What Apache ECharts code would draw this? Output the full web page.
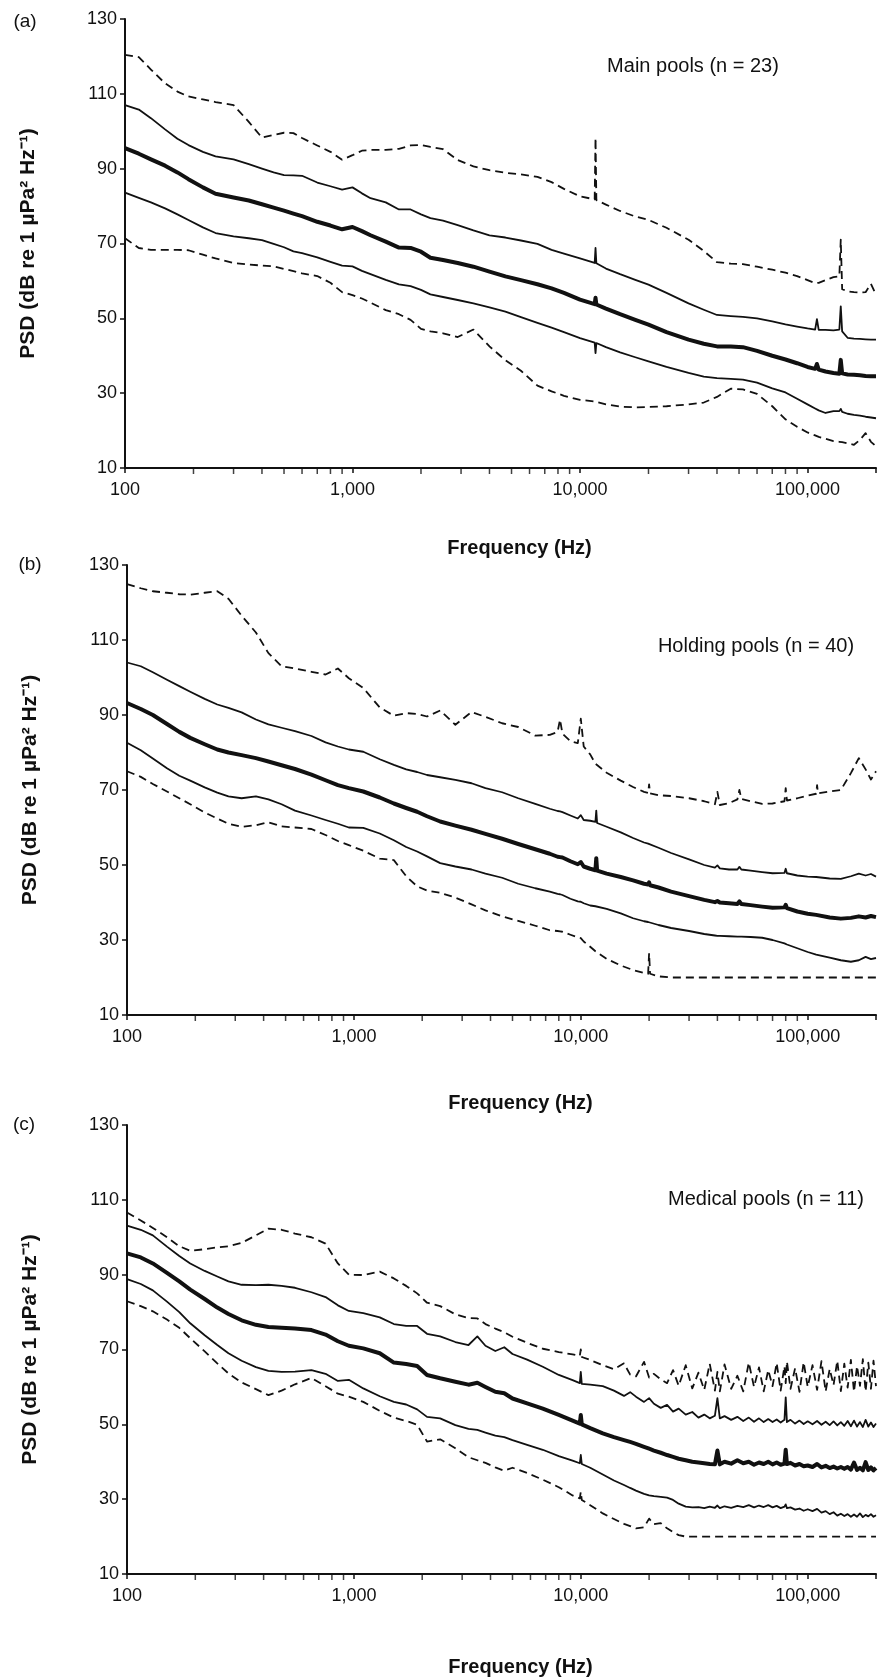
<!DOCTYPE html>
<html>
<head>
<meta charset="utf-8">
<title>PSD of pool noise</title>
<script src="https://cdn.jsdelivr.net/npm/echarts@6/dist/echarts.min.js"></script>
<style>
  html, body { margin: 0; padding: 0; background: #fff; }
  #chart { width: 879px; height: 1679px; }
</style>
</head>
<body>
<div id="chart"></div>
<script>
// ---- data ----

// y ticks and x tick positions
const yTicks = [10, 30, 50, 70, 90, 110, 130];
const decadeLabels = [100, 1000, 10000, 100000];
const minorTicks = [200, 300, 400, 500, 600, 700, 800, 900,
  2000, 3000, 4000, 5000, 6000, 7000, 8000, 9000,
  20000, 30000, 40000, 50000, 60000, 70000, 80000, 90000];

// (a) main pools
const freqA = [100, 115, 130, 150, 170, 190, 220, 250, 300, 350,
  400, 450, 500, 550, 600, 700, 800, 900, 1000, 1100,
  1200, 1400, 1600, 1800, 2000, 2200, 2500, 2900, 3400, 4000,
  4700, 5500, 6500, 7500, 8500, 10000, 11600, 11700, 11800, 13000,
  15000, 17500, 20000, 24000, 30000, 35000, 40000, 46000, 52000, 60000,
  70000, 80000, 90000, 100000, 108000, 110000, 112000, 120000, 130000, 138000,
  140000, 142000, 150000, 160000, 170000, 180000, 190000, 200000];
const meanA = [95.5, 94.0, 92.5, 90.8, 89.0, 87.2, 85.0, 83.3, 82.3, 81.5,
  80.5, 79.6, 78.8, 78.0, 77.3, 75.8, 74.8, 73.8, 74.4, 73.3,
  72.2, 70.5, 68.9, 68.8, 67.8, 66.2, 65.6, 64.8, 63.8, 62.5,
  61.2, 60.2, 59.1, 58.0, 56.8, 55.0, 53.8, 55.5, 53.7, 52.6,
  51.1, 49.6, 48.3, 46.3, 44.3, 43.2, 42.5, 42.5, 42.3, 41.3,
  40.0, 39.0, 38.0, 37.0, 36.5, 37.8, 36.3, 35.8, 35.4, 35.2,
  38.9, 35.3, 35.0, 34.9, 34.8, 34.6, 34.5, 34.5];
const sdUpA = [107.0, 105.8, 103.5, 100.5, 98.0, 96.3, 94.5, 93.3, 92.5, 91.2,
  90.0, 89.0, 88.3, 88.2, 88.1, 86.3, 85.3, 84.4, 85.0, 83.4,
  82.1, 81.0, 79.1, 79.1, 77.8, 76.8, 76.1, 74.9, 73.5, 72.2,
  71.6, 70.8, 69.9, 68.3, 67.3, 66.0, 64.8, 68.8, 64.7, 63.3,
  61.8, 60.3, 59.0, 56.8, 54.0, 52.3, 50.9, 50.6, 50.4, 50.0,
  49.2, 48.4, 47.8, 47.3, 47.0, 49.8, 46.9, 46.9, 46.8, 47.0,
  53.2, 46.5, 44.8, 44.6, 44.5, 44.4, 44.3, 44.3];
const sdLoA = [83.6, 82.2, 81.0, 79.4, 77.8, 76.3, 74.3, 72.8, 71.9, 71.4,
  70.9, 69.9, 69.0, 67.9, 67.4, 66.3, 65.1, 64.1, 63.9, 62.7,
  61.8, 60.3, 59.1, 58.6, 57.6, 56.4, 55.7, 54.9, 54.0, 52.9,
  51.8, 50.3, 48.8, 47.5, 46.3, 44.7, 43.5, 40.7, 43.4, 42.3,
  40.9, 39.6, 38.5, 37.0, 35.4, 34.4, 34.0, 33.8, 33.6, 32.8,
  31.3, 30.2, 28.5, 27.0, 25.9, 25.6, 25.4, 24.7, 25.2, 25.2,
  25.8, 25.0, 24.5, 24.2, 24.0, 23.7, 23.5, 23.3];
const maxA = [120.4, 119.8, 116.5, 112.8, 110.6, 109.3, 108.5, 107.8, 107.0, 102.5,
  98.3, 99.0, 99.6, 99.5, 98.2, 96.2, 94.5, 92.4, 93.6, 94.8,
  95.0, 95.0, 95.3, 96.2, 96.3, 95.8, 95.2, 92.3, 90.6, 89.6,
  88.9, 88.5, 87.8, 86.4, 84.6, 82.6, 81.8, 98.2, 81.6, 80.4,
  78.7, 77.2, 76.3, 74.2, 71.0, 68.0, 65.0, 64.6, 64.5, 63.8,
  63.0, 62.2, 61.3, 60.2, 59.4, 59.3, 59.5, 60.2, 61.0, 61.2,
  71.0, 57.8, 57.2, 57.0, 56.9, 57.0, 59.2, 56.3];
const minA = [71.4, 68.8, 68.3, 68.3, 68.3, 68.2, 67.0, 66.0, 64.8, 64.4,
  64.1, 63.9, 63.2, 62.6, 62.0, 61.3, 59.5, 57.0, 56.2, 55.3,
  54.2, 52.2, 51.1, 49.6, 47.2, 46.5, 46.0, 45.0, 47.0, 42.5,
  38.8, 36.0, 32.0, 30.5, 29.3, 28.2, 27.8, 27.8, 27.7, 27.0,
  26.4, 26.2, 26.3, 26.5, 27.0, 27.5, 29.0, 31.2, 31.0, 29.8,
  26.5, 23.0, 21.0, 19.5, 18.7, 18.5, 18.3, 17.8, 17.2, 17.0,
  17.0, 16.9, 16.6, 16.2, 17.5, 19.3, 17.0, 15.8];

// (b) holding pools
const freqB = [100, 115, 130, 150, 170, 190, 220, 250, 280, 320,
  370, 420, 480, 550, 650, 750, 850, 950, 1100, 1300,
  1500, 1700, 1900, 2100, 2400, 2800, 3300, 3800, 4500, 5300,
  6300, 7300, 7900, 8100, 8300, 9000, 9700, 10000, 10300, 11000,
  11600, 11700, 11800, 13000, 15000, 17000, 19000, 19800, 20000, 20200,
  22000, 25000, 30000, 35000, 39000, 40000, 41000, 45000, 49000, 50000,
  51000, 56000, 63000, 70000, 79000, 80000, 81000, 90000, 100000, 109000,
  110000, 111000, 125000, 140000, 155000, 168000, 180000, 190000, 200000];
const meanB = [93.2, 91.6, 90.0, 87.6, 85.5, 83.9, 82.2, 80.8, 80.0, 79.3,
  78.5, 77.6, 76.6, 75.6, 74.1, 72.6, 71.3, 70.5, 69.6, 68.0,
  66.4, 65.2, 64.2, 63.0, 61.6, 60.5, 59.4, 58.3, 57.0, 55.6,
  54.2, 53.0, 52.2, 52.1, 52.0, 51.0, 50.2, 50.8, 49.6, 49.0,
  48.6, 51.8, 48.5, 47.7, 46.8, 45.9, 45.0, 44.8, 45.4, 44.6,
  44.0, 42.9, 41.7, 40.7, 40.1, 40.4, 40.0, 39.8, 39.6, 40.3,
  39.6, 39.3, 38.9, 38.6, 38.7, 39.4, 38.5, 37.6, 37.0, 36.7,
  37.2, 36.6, 36.0, 35.7, 35.9, 36.3, 36.0, 36.4, 36.1];
const sdUpB = [104.0, 103.0, 101.4, 99.4, 97.7, 96.2, 94.3, 92.8, 91.9, 90.7,
  88.8, 87.5, 86.6, 85.7, 84.4, 82.7, 81.6, 80.8, 80.2, 78.2,
  76.7, 75.5, 74.8, 74.0, 73.4, 72.7, 71.8, 70.5, 69.4, 67.8,
  66.3, 65.0, 64.4, 64.3, 64.1, 63.2, 62.4, 63.3, 62.0, 61.8,
  61.5, 64.5, 61.2, 60.2, 58.7, 57.2, 56.0, 55.7, 56.0, 55.5,
  54.6, 53.2, 51.5, 50.0, 49.3, 49.9, 49.1, 48.8, 48.8, 49.5,
  48.8, 48.5, 48.1, 47.8, 47.9, 49.0, 47.8, 47.2, 46.9, 46.8,
  47.3, 46.7, 46.4, 46.3, 47.0, 47.7, 47.2, 47.6, 46.9];
const sdLoB = [82.6, 80.6, 78.4, 75.8, 73.8, 72.5, 70.7, 69.3, 68.3, 67.8,
  68.3, 67.5, 66.2, 64.5, 63.2, 62.0, 61.0, 60.0, 59.9, 58.4,
  56.6, 54.8, 53.6, 52.3, 50.5, 49.6, 48.8, 47.7, 46.6, 45.0,
  43.8, 42.9, 42.3, 42.2, 42.0, 41.0, 40.3, 40.2, 39.8, 39.2,
  39.0, 39.5, 38.9, 38.3, 37.1, 35.8, 35.0, 34.8, 35.2, 34.6,
  34.0, 33.2, 32.4, 31.6, 31.2, 31.1, 31.1, 31.0, 30.9, 30.9,
  30.9, 30.8, 30.6, 30.0, 29.1, 29.0, 28.8, 27.8, 26.8, 26.1,
  26.0, 26.0, 25.3, 24.6, 24.2, 24.6, 25.5, 24.9, 25.2];
const maxB = [124.9, 123.8, 123.0, 122.6, 122.2, 122.1, 122.6, 123.0, 121.0, 116.5,
  112.0, 106.5, 103.0, 102.4, 101.5, 100.8, 102.4, 99.8, 97.2, 92.0,
  89.8, 90.5, 90.3, 89.6, 91.2, 87.4, 90.8, 89.5, 87.8, 86.8,
  84.5, 84.7, 85.5, 88.8, 85.0, 83.0, 82.5, 89.0, 81.6, 79.5,
  77.0, 76.8, 76.6, 74.6, 72.5, 70.8, 69.5, 69.2, 71.5, 69.1,
  68.6, 68.4, 67.8, 67.0, 66.2, 69.5, 66.0, 66.5, 67.5, 70.0,
  67.6, 67.0, 66.3, 66.4, 67.0, 70.5, 67.2, 67.8, 68.5, 69.0,
  71.3, 69.1, 69.6, 70.0, 74.5, 78.5, 75.5, 72.8, 75.0];
const minB = [75.0, 73.5, 71.6, 69.6, 67.8, 66.2, 64.0, 62.4, 61.0, 60.2,
  60.6, 61.4, 60.3, 60.0, 59.6, 58.0, 56.4, 55.3, 53.8, 51.7,
  51.3, 47.0, 44.3, 43.2, 42.6, 41.3, 39.5, 37.9, 36.3, 35.1,
  33.8, 32.6, 32.4, 32.3, 32.2, 31.4, 30.7, 30.5, 29.6, 28.2,
  27.0, 26.9, 26.8, 25.0, 23.2, 22.0, 21.2, 21.0, 26.5, 21.0,
  20.3, 20.0, 20.0, 20.0, 20.0, 20.0, 20.0, 20.0, 20.0, 20.0,
  20.0, 20.0, 20.0, 20.0, 20.0, 20.0, 20.0, 20.0, 20.0, 20.0,
  20.0, 20.0, 20.0, 20.0, 20.0, 20.0, 20.0, 20.0, 20.0];

// (c) medical pools
const freqC = [100, 115, 130, 150, 170, 190, 220, 250, 280, 320,
  370, 420, 480, 550, 650, 750, 850, 950, 1100, 1300,
  1500, 1700, 1900, 2100, 2400, 2800, 3200, 3500, 3800, 4200,
  4600, 5000, 5800, 6800, 8000, 9200, 9900, 10000, 10100, 11000,
  12500, 14000, 15500, 16500, 17500, 19000, 20000, 21000, 22500, 24000,
  25500, 27000, 29000, 31000, 33000, 35000, 37000, 39000, 40000, 41000,
  43000, 46000, 49000, 52000, 55000, 58000, 61000, 64000, 67000, 70000,
  73000, 76000, 79000, 80000, 81000, 84000, 88000, 92000, 96000, 100000,
  105000, 110000, 115000, 120000, 125000, 130000, 135000, 140000, 145000, 150000,
  155000, 160000, 165000, 170000, 175000, 180000, 185000, 190000, 195000, 200000];
const meanC = [95.7, 94.6, 93.0, 90.5, 88.2, 86.0, 83.5, 81.2, 79.5, 77.8,
  76.6, 76.0, 75.8, 75.6, 75.2, 74.0, 72.2, 71.0, 70.3, 69.0,
  66.5, 66.1, 65.6, 63.2, 62.3, 61.4, 60.6, 61.1, 60.0, 58.7,
  58.3, 56.9, 55.6, 54.2, 52.5, 51.0, 50.2, 52.5, 50.0, 49.0,
  47.6, 46.6, 45.8, 45.3, 44.8, 44.0, 43.5, 43.0, 42.4, 41.8,
  41.3, 40.8, 40.4, 40.0, 39.8, 39.6, 39.4, 39.3, 43.0, 39.3,
  40.0, 39.5, 40.4, 39.6, 40.0, 39.2, 39.8, 39.4, 40.0, 39.3,
  39.8, 39.2, 39.5, 43.2, 39.4, 39.7, 39.0, 39.4, 38.8, 39.0,
  38.6, 39.4, 38.5, 38.9, 38.3, 38.7, 38.2, 38.6, 38.1, 38.6,
  37.9, 39.8, 37.8, 38.4, 37.7, 39.9, 37.8, 38.5, 37.7, 38.3];
const sdUpC = [103.1, 102.0, 100.5, 97.5, 95.0, 93.0, 91.0, 89.5, 88.2, 87.3,
  87.2, 87.3, 87.0, 86.5, 85.3, 84.0, 81.8, 80.3, 79.7, 78.6,
  76.8, 76.3, 76.3, 74.2, 73.5, 72.0, 71.2, 73.5, 71.0, 69.6,
  70.6, 68.8, 67.3, 65.4, 63.2, 61.8, 61.0, 64.0, 60.8, 60.6,
  60.2, 59.0, 57.6, 58.6, 57.4, 56.0, 57.0, 55.5, 54.4, 55.2,
  53.4, 54.2, 52.6, 53.3, 51.8, 52.6, 51.6, 52.3, 57.0, 51.6,
  52.2, 51.2, 52.0, 50.9, 51.8, 50.7, 51.6, 50.6, 51.4, 50.6,
  51.3, 50.5, 51.2, 57.2, 50.6, 51.2, 50.2, 51.0, 50.1, 50.8,
  50.0, 50.9, 49.9, 50.7, 49.8, 50.8, 49.7, 50.6, 49.6, 50.9,
  49.5, 51.0, 49.4, 50.6, 49.3, 51.2, 49.4, 50.5, 49.3, 50.2];
const sdLoC = [88.8, 87.5, 85.8, 82.8, 80.0, 77.0, 73.8, 71.2, 69.0, 67.0,
  65.3, 64.3, 64.0, 64.1, 64.5, 63.5, 61.6, 61.9, 59.6, 57.5,
  56.0, 55.3, 54.0, 52.0, 51.6, 49.8, 48.8, 48.5, 47.8, 47.0,
  46.6, 45.8, 44.5, 43.2, 41.5, 40.3, 39.6, 41.8, 39.4, 38.4,
  36.6, 35.0, 33.8, 33.0, 32.3, 31.4, 31.0, 30.8, 30.6, 30.4,
  29.8, 28.8, 28.0, 27.8, 27.9, 27.6, 28.0, 27.7, 28.3, 27.6,
  28.1, 27.7, 28.2, 27.9, 28.4, 27.8, 28.3, 27.9, 28.4, 27.8,
  28.2, 27.6, 28.0, 28.6, 27.6, 27.8, 27.2, 27.5, 26.9, 27.3,
  26.8, 27.4, 26.4, 26.8, 26.0, 26.5, 25.6, 26.1, 25.5, 26.0,
  25.3, 25.9, 25.3, 26.2, 25.2, 25.8, 25.4, 26.0, 25.3, 25.7];
const maxC = [106.6, 104.5, 102.5, 100.0, 97.6, 96.4, 96.8, 97.3, 97.6, 98.5,
  100.5, 102.3, 102.0, 101.0, 100.0, 98.3, 93.0, 90.0, 89.9, 90.8,
  89.0, 87.0, 85.0, 82.5, 81.6, 79.4, 78.4, 78.3, 76.8, 75.6,
  74.6, 73.4, 71.8, 70.2, 69.3, 68.7, 68.3, 70.0, 68.0, 67.2,
  65.8, 64.7, 66.3, 63.3, 62.8, 66.7, 62.5, 63.5, 62.0, 61.0,
  64.5, 60.3, 65.8, 59.6, 63.8, 59.2, 66.2, 59.0, 64.0, 58.8,
  66.0, 59.5, 63.0, 58.8, 66.5, 60.0, 65.2, 58.8, 64.5, 60.2,
  66.4, 59.0, 65.5, 61.0, 66.8, 59.5, 65.0, 58.7, 66.6, 60.0,
  65.8, 59.2, 66.9, 58.8, 64.8, 60.5, 67.0, 58.9, 66.2, 59.8,
  67.2, 58.7, 65.6, 60.3, 67.4, 58.8, 66.5, 59.5, 67.0, 60.2];
const minC = [82.9, 81.6, 80.2, 78.0, 75.8, 73.0, 69.5, 66.3, 63.6, 61.2,
  59.4, 57.8, 59.0, 60.7, 62.4, 60.2, 58.2, 57.4, 56.0, 53.6,
  51.8, 50.9, 49.9, 45.4, 46.0, 43.6, 41.2, 40.4, 39.7, 38.5,
  37.6, 38.4, 37.0, 35.2, 33.2, 31.0, 30.2, 32.0, 29.8, 28.4,
  26.2, 24.7, 23.4, 22.8, 22.2, 22.5, 24.8, 23.3, 23.6, 22.2,
  21.2, 20.4, 20.0, 20.0, 20.0, 20.0, 20.0, 20.0, 20.0, 20.0,
  20.0, 20.0, 20.0, 20.0, 20.0, 20.0, 20.0, 20.0, 20.0, 20.0,
  20.0, 20.0, 20.0, 20.0, 20.0, 20.0, 20.0, 20.0, 20.0, 20.0,
  20.0, 20.0, 20.0, 20.0, 20.0, 20.0, 20.0, 20.0, 20.0, 20.0,
  20.0, 20.0, 20.0, 20.0, 20.0, 20.0, 20.0, 20.0, 20.0, 20.0];

// ---- layout ----
const INK = '#111';
const FONT = '"Liberation Sans", Arial, sans-serif';

const panels = [
  { tag: '(a)', note: 'Main pools (n = 23)', freqs: freqA, mean: meanA, up: sdUpA, lo: sdLoA, max: maxA, min: minA,
    left: 125, top: 19, height: 449, tagX: 25, tagY: 22, noteX: 693, noteY: 66, xGap: 70 },
  { tag: '(b)', note: 'Holding pools (n = 40)', freqs: freqB, mean: meanB, up: sdUpB, lo: sdLoB, max: maxB, min: minB,
    left: 127, top: 565, height: 450, tagX: 30, tagY: 565, noteX: 756, noteY: 646, xGap: 78 },
  { tag: '(c)', note: 'Medical pools (n = 11)', freqs: freqC, mean: meanC, up: sdUpC, lo: sdLoC, max: maxC, min: minC,
    left: 127, top: 1125, height: 449, tagX: 24, tagY: 1125, noteX: 766, noteY: 1199, xGap: 83 }
];

const grids = [], xAxes = [], yAxes = [], series = [], texts = [];

function line(idx, freqs, vals, width, dashed) {
  return {
    type: 'line', xAxisIndex: idx, yAxisIndex: idx,
    data: freqs.map((f, i) => [f, vals[i]]),
    symbol: 'none', silent: true, animation: false,
    lineStyle: { color: INK, width: width, type: dashed ? [8, 5] : 'solid', cap: 'butt', join: 'round' }
  };
}

panels.forEach((p, i) => {
  grids.push({ left: p.left, top: p.top, width: 878 - p.left, height: p.height });

  xAxes.push({
    type: 'log', logBase: 10, gridIndex: i, min: 100, max: 200000,
    axisLine: { lineStyle: { color: INK, width: 2 } },
    axisTick: { length: 5, lineStyle: { color: INK, width: 1.5 } },
    axisLabel: {
      margin: 13, fontSize: 18, fontFamily: FONT, color: INK,
      formatter: v => decadeLabels.includes(Math.round(v)) ? Math.round(v).toLocaleString('en-US') : ''
    },
    splitLine: { show: false },
    name: 'Frequency (Hz)', nameLocation: 'middle', nameGap: p.xGap,
    nameTextStyle: { fontSize: 20, fontWeight: 'bold', fontFamily: FONT, color: INK, padding: [0, 0, 0, 38] }
  });

  yAxes.push({
    type: 'value', gridIndex: i, min: 10, max: 130,
    axisLine: { show: true, lineStyle: { color: INK, width: 2 } },
    axisTick: { show: true, length: 5, customValues: yTicks, lineStyle: { color: INK, width: 1.5 } },
    axisLabel: { customValues: yTicks, margin: 8, fontSize: 18, fontFamily: FONT, color: INK },
    splitLine: { show: false },
    name: 'PSD (dB re 1 \u00b5Pa\u00b2 Hz\u207b\u00b9)', nameLocation: 'middle', nameRotate: 90, nameGap: 86,
    nameTextStyle: { fontSize: 21, fontWeight: 'bold', fontFamily: FONT, color: INK }
  });

  series.push(line(i, p.freqs, p.max, 1.8, true));
  series.push(line(i, p.freqs, p.min, 1.8, true));
  series.push(line(i, p.freqs, p.up, 1.8, false));
  series.push(line(i, p.freqs, p.lo, 1.8, false));
  series.push(line(i, p.freqs, p.mean, 4, false));

  // minor ticks of the log axis, hanging under the axis line
  series.push({
    type: 'scatter', xAxisIndex: i, yAxisIndex: i,
    data: minorTicks.map(f => [f, 10]),
    symbol: 'rect', symbolSize: [1.5, 5], symbolOffset: [0, 3.5],
    itemStyle: { color: INK }, silent: true, clip: false, animation: false, z: 3
  });

  texts.push({
    type: 'text', x: p.tagX, y: p.tagY,
    style: { text: p.tag, fill: INK, font: '19px ' + FONT, align: 'center', verticalAlign: 'middle',
             textAlign: 'center', textVerticalAlign: 'middle' }
  });
  texts.push({
    type: 'text', x: p.noteX, y: p.noteY,
    style: { text: p.note, fill: INK, font: '20px ' + FONT, align: 'center', verticalAlign: 'middle',
             textAlign: 'center', textVerticalAlign: 'middle' }
  });
});

const chart = echarts.init(document.getElementById('chart'), null, { renderer: 'canvas' });
chart.setOption({
  backgroundColor: '#fff',
  animation: false,
  grid: grids,
  xAxis: xAxes,
  yAxis: yAxes,
  series: series,
  graphic: { elements: texts }
});
</script>
</body>
</html>
